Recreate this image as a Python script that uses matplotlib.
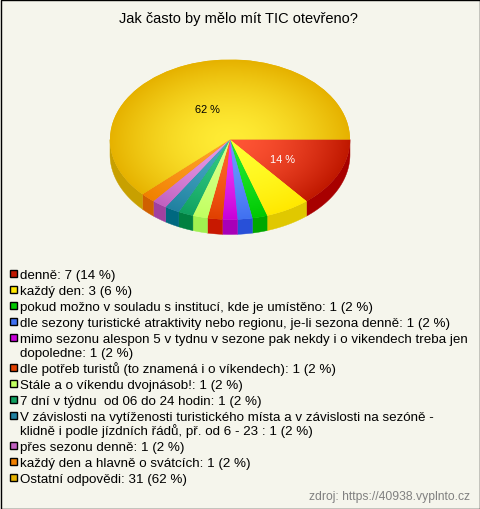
import numpy as np
import matplotlib
matplotlib.use('Agg')
import matplotlib.pyplot as plt
from matplotlib.colors import LinearSegmentedColormap
from matplotlib.patches import Rectangle

plt.rcParams['font.family'] = ['Liberation Sans', 'DejaVu Sans']

title = 'Jak často by mělo mít TIC otevřeno?'
source = 'zdroj: https://40938.vyplnto.cz'
counts = [7, 3, 1, 1, 1, 1, 1, 1, 1, 1, 1, 31]
percents = [14, 6, 2, 2, 2, 2, 2, 2, 2, 2, 2, 62]
labels = [
    'denně',
    'každý den',
    'pokud možno v souladu s institucí, kde je umístěno',
    'dle sezony turistické atraktivity nebo regionu, je-li sezona denně',
    'mimo sezonu alespon 5 v tydnu v sezone pak nekdy i o vikendech treba jen\ndopoledne',
    'dle potřeb turistů (to znamená i o víkendech)',
    'Stále a o víkendu dvojnásob!',
    '7 dní v týdnu  od 06 do 24 hodin',
    'V závislosti na vytíženosti turistického místa a v závislosti na sezóně -\nklidně i podle jízdních řádů, př. od 6 - 23 ',
    'přes sezonu denně',
    'každý den a hlavně o svátcích',
    'Ostatní odpovědi',
]

center_colors = ['#ff5535', '#ffff30', '#20e830', '#6a98ff', '#e838f5', '#ff6525',
                 '#d8ff88', '#30c880', '#45a8c0', '#e498e4', '#ffa028', '#ffec35']
edge_colors = ['#c01800', '#ffe800', '#00c800', '#4070f0', '#c800d8', '#e04000',
               '#c0ff60', '#10a060', '#2080a0', '#c060c0', '#f08000', '#e6b200']
side_colors = ['#a80000', '#e0c800', '#00a800', '#2850d8', '#a800b8', '#c81800',
               '#a0f050', '#008040', '#006880', '#a040a0', '#d06000', '#c8a000']
bg = '#f5f5ec'
W, H = 480, 510
depth = 15 / 80

fig = plt.figure(figsize=(W / 100, H / 100), dpi=100, facecolor=bg)

# pixel layer for the frame, title and legend
page = fig.add_axes([0, 0, 1, 1])
page.set_xlim(0, W)
page.set_ylim(H, 0)
page.axis('off')
page.add_patch(Rectangle((0.5, 0.5), W - 1, H - 1, fc=bg, ec='black', lw=1))
page.text(238, 19, title, ha='center', va='center', fontsize=10.55, color='black')
page.text(470, 497, source, ha='right', va='center', fontsize=8.75, color='#808080')

y = 274
for lab, n, p, c in zip(labels, counts, percents, edge_colors):
    page.add_patch(Rectangle((9.5, y - 3.5), 7, 7, fc=c, ec='black', lw=1))
    parts = (lab + ': %d (%d %%)' % (n, p)).split('\n')
    yy = y + 5
    for line in parts:
        page.text(20.5, yy, line, ha='left', va='baseline', fontsize=9.6, color='black')
        yy += 14.5
    y += 16 + 14 * (len(parts) - 1)

# pie, squashed to an ellipse by the axes box
ax = fig.add_axes([110 / W, (H - 220.5) / H, 240 / W, 160 / H])
wedges, texts, autotexts = ax.pie(
    counts, startangle=0, counterclock=False, radius=1, colors=edge_colors,
    autopct=lambda v: '%.0f %%' % v if v > 10 else '', pctdistance=0.48,
    wedgeprops={'linewidth': 0}, textprops={'fontsize': 7.9})
ax.set_aspect('auto')
autotexts[0].set_color('white')
autotexts[-1].set_color('black')
autotexts[0].set_y(autotexts[0].get_position()[1] - 0.04)
autotexts[-1].set_position((autotexts[-1].get_position()[0] - 0.015,
                            autotexts[-1].get_position()[1] - 0.06))

# front wall of the cylinder
stops = np.cumsum([0] + percents) / sum(percents) * 360
for a, b, c in zip(stops[:-1], stops[1:], side_colors):
    b = min(b, 180)
    if a >= 180:
        continue
    t = np.radians(np.linspace(a, b, 40))
    xs, ys = np.cos(t), -np.sin(t)
    ax.fill(np.r_[xs, xs[::-1]], np.r_[ys, ys[::-1] - depth], color=c, lw=0.3,
            clip_on=False, zorder=0.5)

# radial shading on every slice
gx, gy = np.meshgrid(np.linspace(-1, 1, 480), np.linspace(-1, 1, 320))
rad = np.clip(np.hypot(gx, gy), 0, 1) ** 1.6
for w, c0, c1 in zip(wedges, center_colors, edge_colors):
    cmap = LinearSegmentedColormap.from_list('s', [c0, c1])
    im = ax.imshow(rad, extent=[-1, 1, -1, 1], origin='lower', cmap=cmap,
                   vmin=0, vmax=1, aspect='auto', zorder=1.5)
    im.set_clip_path(w)
for t in autotexts:
    t.set_zorder(5)
ax.set_xlim(-1, 1)
ax.set_ylim(-1, 1)
ax.axis('off')

fig.savefig('out.png', dpi=100, facecolor=bg)
